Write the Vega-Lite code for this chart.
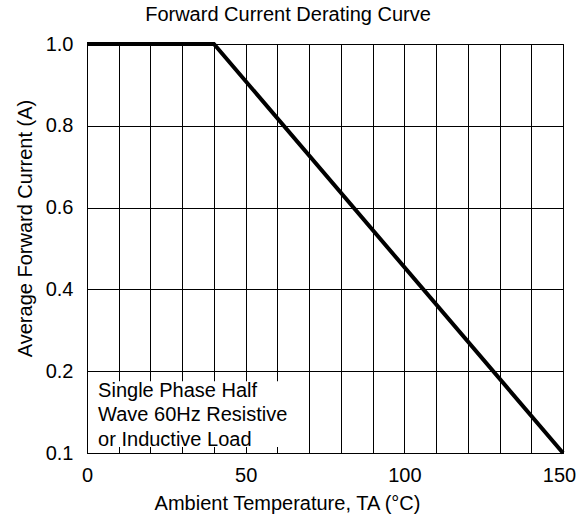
{
  "$schema": "https://vega.github.io/schema/vega-lite/v6.json",
  "width": 476,
  "height": 409,
  "autosize": "none",
  "padding": {"left": 87, "top": 44, "right": 14, "bottom": 67},
  "background": "white",
  "config": {
    "font": "Liberation Sans",
    "view": {"stroke": "black", "strokeWidth": 1},
    "axis": {"grid": true, "gridColor": "black", "gridOpacity": 1, "gridWidth": 1, "domainColor": "black", "domainWidth": 1, "labelColor": "black", "titleColor": "black", "labelFont": "Liberation Sans", "titleFont": "Liberation Sans", "titleFontWeight": "normal", "labelOverlap": false, "labelFlush": false, "labelBound": false}
  },
  "title": {"text": "Forward Current Derating Curve", "fontSize": 20, "fontWeight": "normal", "color": "black", "anchor": "middle", "dx": -37, "offset": 9},
  "layer": [
    {
      "data": {"values": [{}]},
      "mark": {"type": "rect", "fill": "white", "stroke": null},
      "encoding": {
        "x": {"datum": 0.4, "type": "quantitative",
          "scale": {"domain": [0, 150], "nice": false, "zero": false},
          "axis": {"grid": true, "values": [0,10,20,30,40,50,60,70,80,90,100,110,120,130,140,150], "labelExpr": "datum.value % 50 == 0 ? datum.label : ''", "labelOffset": {"condition": {"test": "datum.value == 150", "value": -4}, "value": 0}, "ticks": false, "labelPadding": 12, "labelFontSize": 20, "title": "Ambient Temperature, TA (°C)", "titleFontSize": 20, "titleX": 200, "titleAlign": "center", "titlePadding": 8}},
        "x2": {"datum": 67},
        "y": {"datum": 0.1878, "type": "quantitative",
          "scale": {"domain": [0.1, 0.2, 1.0], "range": [409, 327.2, 0], "nice": false, "zero": false},
          "axis": {"grid": true, "values": [0.1, 0.2, 0.4, 0.6, 0.8, 1.0], "format": ".1f", "ticks": false, "labelPadding": 14, "labelFontSize": 20, "title": "Average Forward Current (A)", "titleFontSize": 20, "titlePadding": 10, "titleY": 184}},
        "y2": {"datum": 0.1073}
      }
    },
    {
      "data": {"values": [{}]},
      "mark": {"type": "text", "text": ["Single Phase Half", "Wave 60Hz Resistive", "or Inductive Load"], "align": "left", "baseline": "alphabetic", "fontSize": 20, "lineHeight": 24.5, "color": "black", "font": "Liberation Sans"},
      "encoding": {
        "x": {"datum": 3.5, "type": "quantitative",
          "scale": {"domain": [0, 150], "nice": false, "zero": false},
          "axis": {"grid": true, "values": [0,10,20,30,40,50,60,70,80,90,100,110,120,130,140,150], "labelExpr": "datum.value % 50 == 0 ? datum.label : ''", "labelOffset": {"condition": {"test": "datum.value == 150", "value": -4}, "value": 0}, "ticks": false, "labelPadding": 12, "labelFontSize": 20, "title": "Ambient Temperature, TA (°C)", "titleFontSize": 20, "titleX": 200, "titleAlign": "center", "titlePadding": 8}},
        "y": {"datum": 0.1688, "type": "quantitative",
          "scale": {"domain": [0.1, 0.2, 1.0], "range": [409, 327.2, 0], "nice": false, "zero": false},
          "axis": {"grid": true, "values": [0.1, 0.2, 0.4, 0.6, 0.8, 1.0], "format": ".1f", "ticks": false, "labelPadding": 14, "labelFontSize": 20, "title": "Average Forward Current (A)", "titleFontSize": 20, "titlePadding": 10, "titleY": 184}}
      }
    },
    {
      "data": {"values": [
        {"temp": 0, "current": 1.0},
        {"temp": 40, "current": 1.0},
        {"temp": 150, "current": 0.1}
      ]},
      "mark": {"type": "line", "color": "black", "strokeWidth": 4, "strokeJoin": "miter", "strokeCap": "butt"},
      "encoding": {
        "x": {"field": "temp", "type": "quantitative",
          "scale": {"domain": [0, 150], "nice": false, "zero": false},
          "axis": {"grid": true, "values": [0,10,20,30,40,50,60,70,80,90,100,110,120,130,140,150], "labelExpr": "datum.value % 50 == 0 ? datum.label : ''", "labelOffset": {"condition": {"test": "datum.value == 150", "value": -4}, "value": 0}, "ticks": false, "labelPadding": 12, "labelFontSize": 20, "title": "Ambient Temperature, TA (°C)", "titleFontSize": 20, "titleX": 200, "titleAlign": "center", "titlePadding": 8}},
        "y": {"field": "current", "type": "quantitative",
          "scale": {"domain": [0.1, 0.2, 1.0], "range": [409, 327.2, 0], "nice": false, "zero": false},
          "axis": {"grid": true, "values": [0.1, 0.2, 0.4, 0.6, 0.8, 1.0], "format": ".1f", "ticks": false, "labelPadding": 14, "labelFontSize": 20, "title": "Average Forward Current (A)", "titleFontSize": 20, "titlePadding": 10, "titleY": 184}}
      }
    }
  ]
}
